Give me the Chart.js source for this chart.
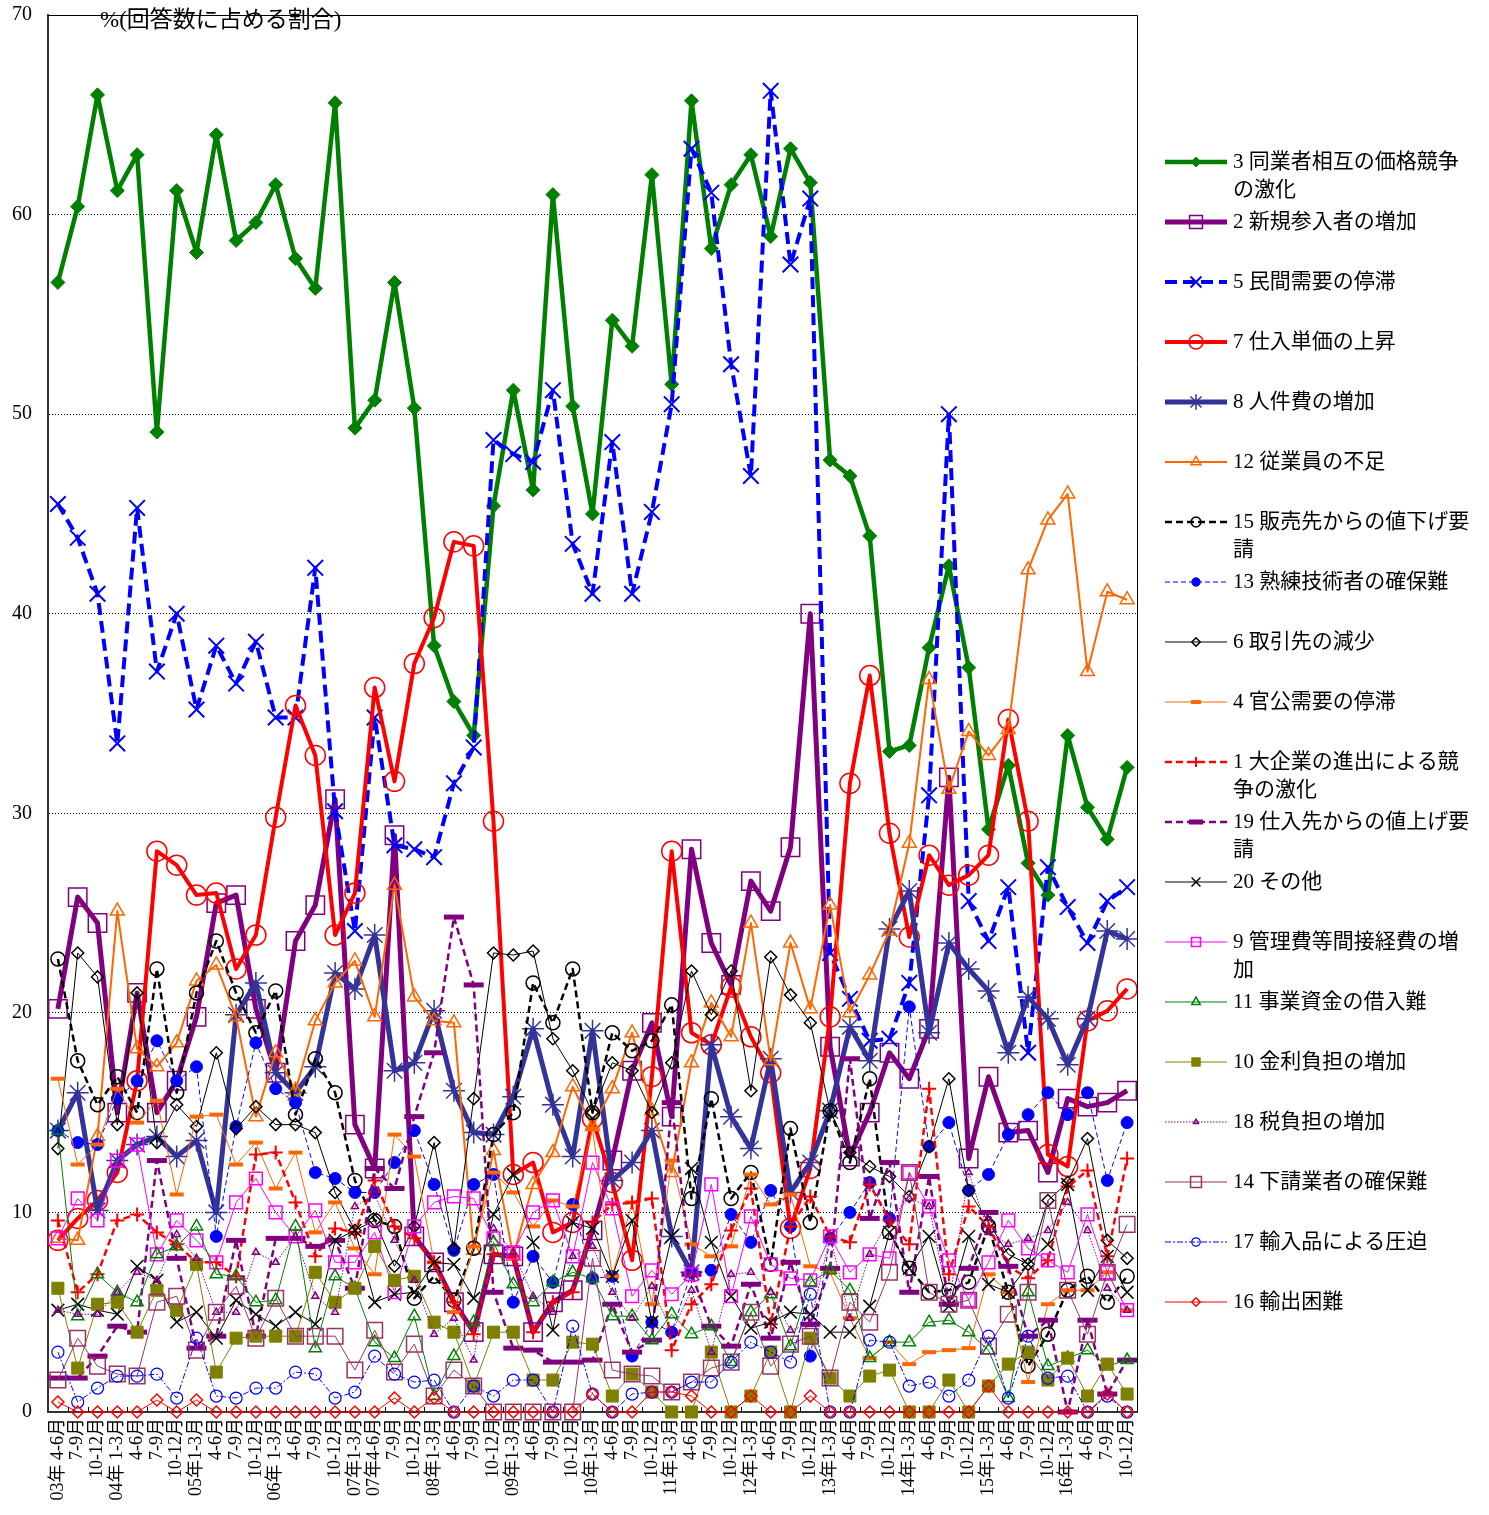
<!DOCTYPE html>
<html>
<head>
<meta charset="utf-8">
<script src="https://cdn.jsdelivr.net/npm/chart.js@4.4.1/dist/chart.umd.min.js"></script>
<style>
  body { margin: 0; background: #fff; }
  canvas { display: block; }
</style>
</head>
<body>
<canvas id="c" width="1489" height="1515"></canvas>
<script>
// 四半期ラベル
const quarters = ["03年 4-6月","7-9月","10-12月","04年 1-3月","4-6月","7-9月","10-12月","05年1-3月","4-6月","7-9月","10-12月","06年 1-3月","4-6月","7-9月","10-12月","07年1-3月","07年4-6月","7-9月","10-12月","08年1-3月","4-6月","7-9月","10-12月","09年1-3月","4-6月","7-9月","10-12月","10年1-3月","4-6月","7-9月","10-12月","11年1-3月","4-6月","7-9月","10-12月","12年1-3月","4-6月","7-9月","10-12月","13年1-3月","4-6月","7-9月","10-12月","14年1-3月","4-6月","7-9月","10-12月","15年1-3月","4-6月","7-9月","10-12月","16年1-3月","4-6月","7-9月","10-12月"];

// 各項目 (%)
const kakaku  = [56.6,60.4,66.0,61.2,63.0,49.1,61.2,58.1,64.0,58.7, 59.6,61.5,57.8,56.3,65.6,49.3,50.7,56.6,50.3,38.4, 35.6,33.9,45.4,51.2,46.2,61.0,50.4,45.0,54.7,53.4, 62.0,51.5,65.7,58.3,61.5,63.0,58.9,63.3,61.6,47.7, 46.9,43.9,33.1,33.4,38.3,42.4,37.3,29.2,32.4,27.5, 25.9,33.9,30.3,28.7,32.3];
const shinki  = [20.2,25.8,24.5,15.0,21.0,15.0,16.6,19.8,25.5,25.9, 20.2,17.0,23.6,25.4,30.7,14.4,12.2,28.9,8.8,7.5, 5.5,4.0,7.9,7.8,4.0,5.5,6.1,9.1,12.6,17.1, 19.5,14.8,28.2,23.5,21.4,26.6,25.1,28.3,40.0,18.3, 12.8,15.0,18.0,16.7,19.2,31.8,12.7,16.8,14.0,14.1, 12.0,15.7,15.3,15.5,16.1];
const minkan  = [45.5,43.8,41.0,33.5,45.3,37.1,40.0,35.2,38.4,36.5, 38.6,34.8,34.8,42.3,30.1,24.1,34.8,28.4,28.2,27.8, 31.5,33.3,48.7,48.0,47.6,51.2,43.5,41.0,48.6,41.0, 45.1,50.5,63.3,61.1,52.5,46.9,66.2,57.5,60.8,23.0, 20.7,18.6,18.7,21.5,30.9,50.0,25.6,23.6,26.3,18.0, 27.3,25.3,23.5,25.6,26.3];
const shiire  = [8.6,9.7,10.6,12.0,16.6,28.1,27.4,25.9,26.0,22.2, 23.9,29.8,35.4,32.9,23.9,26.0,36.3,31.6,37.5,39.8, 43.6,43.4,29.6,11.9,12.5,9.0,9.5,14.7,11.5,7.6, 16.8,28.1,19.0,18.4,21.3,18.8,17.0,9.2,12.2,19.8, 31.5,36.9,29.0,23.8,27.9,26.4,26.9,27.9,34.7,29.6, 12.9,12.3,19.6,20.1,21.2];
const jinken  = [14.1,16.0,10.1,12.6,13.4,13.8,12.8,13.6,10.0,19.9, 21.5,17.0,16.0,17.3,22.0,21.2,23.9,17.1,17.5,20.1, 16.1,14.0,13.9,15.8,19.2,15.4,12.8,19.1,11.6,12.5, 14.1,8.8,7.0,18.4,14.8,13.2,17.7,11.0,12.5,15.1, 19.3,17.6,24.2,26.1,19.0,23.5,22.2,21.1,18.0,20.8, 19.7,17.4,19.7,24.1,23.7];
const jugyoin = [8.7,8.6,13.8,25.1,18.2,17.3,18.5,21.6,22.4,19.8, 14.8,18.0,16.1,19.6,21.5,22.6,19.8,26.4,20.8,19.6, 19.5,8.1,13.1,7.8,11.4,13.0,16.3,14.3,16.2,19.0, 15.1,12.0,17.5,20.5,18.8,24.5,17.6,23.5,20.2,25.4, 20.0,21.9,24.1,28.5,36.7,31.2,34.1,32.9,34.2,42.2, 44.7,46.0,37.1,41.1,40.7];
const nesage  = [22.7,17.6,15.4,16.8,15.0,22.2,16.0,21.0,23.6,21.0, 19.0,21.1,14.9,17.7,16.0,11.6,9.6,9.3,5.7,6.8, 5.6,8.2,13.9,15.0,21.5,19.5,22.2,15.0,19.0,18.1, 18.6,20.4,10.7,15.7,10.7,12.0,7.4,14.2,9.5,15.1, 12.5,16.7,9.0,7.2,6.0,6.1,6.5,9.3,6.0,2.3, 3.9,6.1,6.8,5.5,6.8];
const jukuren  = [14.1,13.5,13.4,15.7,16.6,18.6,16.6,17.3,8.8,14.3, 18.5,16.2,15.5,12.0,11.7,11.0,11.0,12.5,14.1,11.4, 8.1,11.4,11.9,5.5,7.8,6.5,10.4,6.7,6.8,2.8, 4.5,4.0,7.0,7.1,9.9,8.5,11.1,9.3,2.8,8.7, 10.0,11.5,9.7,20.3,13.3,14.5,11.1,11.9,13.9,14.9, 16.0,14.9,16.0,11.6,14.5];
const torihiki = [13.2,23.0,21.8,14.4,21.0,13.5,15.4,14.3,18.0,14.2, 15.3,14.4,14.4,14.0,11.0,9.1,9.6,7.3,9.3,13.5, 8.2,15.7,23.0,22.9,23.1,18.7,17.1,15.0,17.5,17.1, 15.0,17.5,22.1,19.9,22.1,16.1,22.8,20.9,19.5,15.1, 13.0,12.3,11.8,10.8,13.3,16.7,11.1,9.5,7.9,7.4, 10.6,11.5,13.7,8.6,7.7];
const kankoju  = [16.7,12.4,13.4,16.2,14.5,15.6,10.9,14.8,14.9,12.4, 13.5,11.2,13.0,9.0,10.5,8.2,6.9,13.9,12.8,7.5, 5.0,8.3,12.0,11.0,9.3,10.6,10.3,14.2,6.8,10.5, 5.4,12.6,8.4,7.8,8.3,11.9,10.4,10.9,7.3,7.0, 4.7,2.7,3.5,2.4,3.0,3.1,3.2,6.9,6.0,1.5, 5.4,6.1,6.1,7.0,5.1];
const daikigyo = [9.6,6.0,6.9,9.6,9.9,9.0,8.4,7.5,7.5,6.8, 12.9,13.0,10.5,7.8,9.2,9.0,11.6,9.3,8.7,7.5, 5.5,3.9,7.9,7.8,4.0,5.5,6.0,9.5,10.4,10.5, 10.7,3.1,5.4,6.4,9.1,11.2,4.4,9.3,10.8,8.8, 8.5,11.4,9.6,8.4,16.2,6.9,10.3,9.3,7.3,6.7, 7.6,11.3,12.1,7.8,12.7];
const neage    = [1.7,1.7,2.8,4.3,4.0,12.6,7.7,3.2,3.8,8.6, 3.8,8.7,8.7,8.3,8.6,6.2,12.2,11.2,14.8,18.0, 24.8,21.4,6.0,3.2,3.1,2.5,2.5,2.6,5.4,3.0, 3.6,15.5,6.9,4.3,3.3,6.4,3.7,7.5,4.4,7.2, 17.7,9.7,12.5,6.0,11.8,5.4,7.2,10.0,7.3,3.8, 4.6,0.0,4.6,0.9,2.6];
const sonota   = [5.1,5.4,5.1,4.9,7.3,6.6,4.5,5.0,3.7,5.6, 4.9,4.3,5.0,4.4,8.6,9.1,5.5,5.9,6.0,7.5, 7.4,5.7,9.9,11.9,8.5,4.1,9.5,9.2,6.8,9.6, 4.5,8.8,12.2,8.5,5.8,4.2,4.5,5.0,4.9,4.0, 4.0,5.3,9.0,7.2,8.8,5.3,8.8,6.4,6.0,7.4, 8.4,11.4,6.1,7.8,6.0];
const kanrihi  = [8.7,10.7,9.6,12.6,13.4,7.9,9.6,8.6,7.5,10.5, 11.7,10.0,8.8,10.1,7.5,7.5,9.0,6.0,9.3,10.5, 10.8,10.7,8.7,8.0,10.0,10.6,7.8,12.5,10.2,5.8, 7.1,5.9,6.9,11.4,5.8,9.8,7.4,6.7,6.6,8.8, 7.0,7.9,7.7,12.0,10.3,7.6,5.6,7.5,9.6,8.2, 7.6,7.0,9.9,7.0,5.1];
const kariire  = [14.1,4.8,6.9,6.0,5.5,7.9,8.3,9.3,6.9,6.8, 5.5,5.6,9.3,3.2,6.8,6.2,3.5,2.7,4.8,0.8, 2.8,4.5,8.5,6.4,5.5,6.5,7.0,6.7,4.8,4.8, 3.6,4.9,3.9,4.3,2.5,5.0,5.9,3.3,6.5,7.1, 6.1,2.7,3.5,3.5,4.5,4.6,4.0,3.1,0.7,6.0, 2.3,2.7,3.1,2.3,2.6];
const kinri    = [6.2,2.2,5.4,5.5,4.0,6.1,5.1,7.4,2.0,3.7, 3.8,3.8,3.8,7.0,5.5,6.2,8.3,6.6,6.8,4.5, 4.0,1.3,4.0,4.0,1.6,1.6,3.5,3.4,0.8,1.9, 1.0,0.0,0.0,3.0,0.0,0.8,3.0,0.0,3.7,1.7, 0.8,1.8,2.1,0.0,0.0,1.6,0.0,1.3,2.4,3.0, 1.6,2.7,0.8,2.4,0.9];
const zei      = [5.1,4.9,4.9,6.0,7.0,6.6,8.9,7.7,5.0,5.0, 8.0,7.5,8.8,5.8,5.0,10.3,10.9,8.6,6.6,3.9, 4.7,2.6,9.2,8.0,5.8,5.0,7.8,8.3,6.0,4.7, 6.3,4.0,6.1,3.0,6.9,7.0,6.0,4.1,4.4,8.8, 4.7,7.9,9.7,10.7,10.3,5.4,12.0,9.0,8.4,8.7, 9.1,10.5,9.1,6.2,5.1];
const shitauke = [1.6,3.7,2.3,1.9,1.8,5.5,5.8,3.1,5.0,6.3, 3.7,5.7,3.8,3.8,3.8,2.1,4.1,2.0,3.4,0.8, 2.1,1.3,0.0,0.0,0.0,0.0,0.0,7.7,2.1,1.9, 1.8,1.0,1.5,2.2,2.5,5.0,2.3,3.4,3.8,1.7, 5.5,4.5,7.0,12.0,6.0,5.4,5.6,3.3,4.9,6.0, 10.6,6.1,3.9,7.0,9.4];
const yunyu    = [3.0,0.5,1.2,1.8,1.8,1.9,0.7,3.7,0.8,0.7, 1.2,1.2,2.0,1.9,0.7,1.0,2.8,1.9,1.5,1.6, 0.0,1.3,0.8,1.6,1.6,0.0,4.3,0.9,0.0,0.9, 1.0,1.0,1.5,1.5,2.5,3.5,3.0,2.5,5.9,0.0, 0.0,3.6,3.5,1.3,1.5,0.8,1.6,3.8,0.7,3.8, 1.7,1.8,0.0,0.8,0.0];
const yushutsu = [0.5,0,0,0,0,0.6,0,0.6,0,0, 0,0,0,0,0,0,0,0.7,0,0.7, 0,0,0,0,0,0,0,0.9,0,0, 1.0,1.0,0.8,0,0,0.8,0,0,0.8,0, 0,0,0,0,0,0,0,1.3,0,0, 0,0,0,0.9,0];

const FONT = "'Liberation Serif', 'Noto Sans CJK JP', serif";

// 凡例の順 (= 系列の順)
const series = [
  { name: ["3 同業者相互の価格競争", "の激化"], data: kakaku, color: '#008000', w: 4.5, dash: [], ps: 'rectRot', r: 7, fill: true, pbw: 1 },
  { name: ["2 新規参入者の増加"], data: shinki, color: '#800080', w: 5, dash: [], ps: 'rect', r: 13, fill: false, pbw: 1.5 },
  { name: ["5 民間需要の停滞"], data: minkan, color: '#0000FF', w: 4, dash: [12, 6], ps: 'crossRot', r: 11, fill: false, pbw: 2 },
  { name: ["7 仕入単価の上昇"], data: shiire, color: '#FF0000', w: 4, dash: [], ps: 'circle', r: 10, fill: false, pbw: 1.5 },
  { name: ["8 人件費の増加"], data: jinken, color: '#333399', w: 5, dash: [], ps: 'star', r: 11, fill: false, pbw: 1.5 },
  { name: ["12 従業員の不足"], data: jugyoin, color: '#FF6600', w: 2, dash: [], ps: 'triangle', r: 8, fill: false, pbw: 1.5 },
  { name: ["15 販売先からの値下げ要", "請"], data: nesage, color: '#000000', w: 2.5, dash: [7, 4], ps: 'circle', r: 7, fill: false, pbw: 1.5 },
  { name: ["13 熟練技術者の確保難"], data: jukuren, color: '#0000FF', w: 1, dash: [5, 3], ps: 'circle', r: 6, fill: true, pbw: 1 },
  { name: ["6 取引先の減少"], data: torihiki, color: '#000000', w: 1, dash: [], ps: 'rectRot', r: 6, fill: false, pbw: 1.5 },
  { name: ["4 官公需要の停滞"], data: kankoju, color: '#FF6600', w: 1, dash: [], ps: 'line', r: 7, fill: false, pbw: 4 },
  { name: ["1 大企業の進出による競", "争の激化"], data: daikigyo, color: '#FF0000', w: 2.5, dash: [7, 4], ps: 'cross', r: 7, fill: false, pbw: 2 },
  { name: ["19 仕入先からの値上げ要", "請"], data: neage, color: '#800080', w: 2.5, dash: [7, 4], ps: 'line', r: 10, fill: false, pbw: 5 },
  { name: ["20 その他"], data: sonota, color: '#000000', w: 1, dash: [], ps: 'crossRot', r: 9, fill: false, pbw: 1.5 },
  { name: ["9 管理費等間接経費の増", "加"], data: kanrihi, color: '#FF00FF', w: 1, dash: [], ps: 'rect', r: 9, fill: false, pbw: 1.5 },
  { name: ["11 事業資金の借入難"], data: kariire, color: '#008000', w: 1, dash: [], ps: 'triangle', r: 7, fill: false, pbw: 1.5 },
  { name: ["10 金利負担の増加"], data: kinri, color: '#808000', w: 1, dash: [], ps: 'rect', r: 8.5, fill: true, pbw: 1 },
  { name: ["18 税負担の増加"], data: zei, color: '#800080', w: 1, dash: [1.5, 1.5], ps: 'triangle', r: 4, fill: false, pbw: 1.5 },
  { name: ["14 下請業者の確保難"], data: shitauke, color: '#993366', w: 1, dash: [], ps: 'rect', r: 11, fill: false, pbw: 1.5 },
  { name: ["17 輸入品による圧迫"], data: yunyu, color: '#0000FF', w: 1, dash: [6, 2, 2, 2], ps: 'circle', r: 6, fill: false, pbw: 1.2 },
  { name: ["16 輸出困難"], data: yushutsu, color: '#FF0000', w: 1, dash: [], ps: 'rectRot', r: 6, fill: false, pbw: 1.5 }
];

const datasets = series.map((s, i) => ({
  label: s.name.join(''),
  data: s.data,
  borderColor: s.color,
  borderWidth: s.w,
  borderDash: s.dash,
  borderJoinStyle: 'round',
  backgroundColor: s.color,
  pointStyle: s.ps,
  pointRadius: s.r,
  pointBorderWidth: s.pbw,
  pointBorderColor: s.color,
  pointBackgroundColor: s.fill ? s.color : 'rgba(0,0,0,0)',
  tension: 0,
  clip: false,
  order: series.length - 1 - i
}));

// 右側の凡例
const legendPlugin = {
  id: 'sideLegend',
  afterDraw(chart) {
    const ctx = chart.ctx;
    ctx.save();
    series.forEach((s, i) => {
      const y = 162 + i * 60;
      ctx.strokeStyle = s.color;
      ctx.lineWidth = s.w;
      ctx.setLineDash(s.dash);
      ctx.beginPath();
      ctx.moveTo(1165, y);
      ctx.lineTo(1227, y);
      ctx.stroke();
      ctx.setLineDash([]);
      ctx.lineWidth = s.pbw;
      ctx.fillStyle = s.fill ? s.color : 'rgba(0,0,0,0)';
      Chart.helpers.drawPoint(ctx, { pointStyle: s.ps, radius: s.r * 0.7, rotation: 0, borderWidth: s.pbw }, 1196, y);
      ctx.fillStyle = '#000';
      ctx.font = '21px ' + FONT;
      ctx.textBaseline = 'middle';
      s.name.forEach((t, k) => ctx.fillText(t, 1233, y + k * 28));
    });
    ctx.restore();
  }
};

// 枠線・目盛・タイトル
const framePlugin = {
  id: 'frame',
  afterDraw(chart) {
    const { ctx, chartArea: a } = chart;
    ctx.save();
    ctx.strokeStyle = '#000';
    ctx.lineWidth = 1;
    ctx.setLineDash([]);
    ctx.beginPath();
    ctx.moveTo(a.left, a.top + 0.5);
    ctx.lineTo(a.right + 0.5, a.top + 0.5);
    ctx.lineTo(a.right + 0.5, a.bottom);
    const w = (a.right - a.left) / quarters.length;
    for (let i = 1; i < quarters.length; i++) {
      const x = Math.round(a.left + i * w) + 0.5;
      ctx.moveTo(x, a.bottom);
      ctx.lineTo(x, a.bottom - 5);
    }
    ctx.stroke();
    ctx.fillStyle = '#000';
    ctx.font = '23px ' + FONT;
    ctx.textBaseline = 'middle';
    ctx.fillText('%(回答数に占める割合)', 100, 21);
    ctx.restore();
  }
};

Chart.defaults.font.family = FONT;
Chart.defaults.color = '#000';

new Chart(document.getElementById('c'), {
  type: 'line',
  data: { labels: quarters, datasets: datasets },
  options: {
    responsive: false,
    animation: false,
    layout: { padding: { top: 15, right: 352, left: 0, bottom: 0 } },
    plugins: { legend: { display: false }, tooltip: { enabled: false } },
    scales: {
      x: {
        offset: true,
        grid: { display: false, drawTicks: false },
        border: { color: '#333', width: 2 },
        ticks: { autoSkip: false, maxRotation: 90, minRotation: 90, padding: 6, font: { size: 18 } },
        afterFit(scale) {
          scale.height = 103;
          scale.paddingLeft = 0;
          scale.paddingRight = 0;
        }
      },
      y: {
        min: 0, max: 70,
        grid: { color: '#000', lineWidth: 1, drawTicks: false },
        border: { color: '#333', width: 2, dash: [1, 2] },
        ticks: { stepSize: 10, padding: 16, font: { size: 20 } },
        afterFit(scale) {
          scale.width = 48;
          scale.paddingTop = 0;
          scale.paddingBottom = 0;
        }
      }
    }
  },
  plugins: [legendPlugin, framePlugin]
});
</script>
</body>
</html>
